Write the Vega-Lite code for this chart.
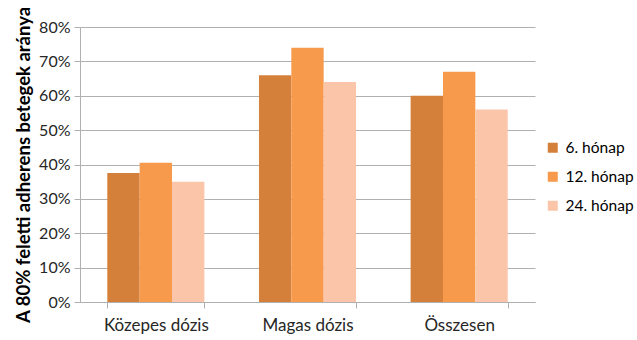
{
  "$schema": "https://vega.github.io/schema/vega-lite/v6.json",
  "width": 455,
  "height": 275,
  "autosize": {"type": "none"},
  "padding": {"left": 80, "top": 27, "right": 102, "bottom": 38},
  "background": "white",
  "config": {
    "view": {"stroke": null},
    "font": "Lato",
    "axis": {"labelFont": "Lato", "titleFont": "Lato"},
    "legend": {"labelFont": "Lato"}
  },
  "data": {
    "values": [
      {"csoport": "Közepes dózis", "idopont": "6. hónap", "arany": 0.375},
      {"csoport": "Közepes dózis", "idopont": "12. hónap", "arany": 0.405},
      {"csoport": "Közepes dózis", "idopont": "24. hónap", "arany": 0.35},
      {"csoport": "Magas dózis", "idopont": "6. hónap", "arany": 0.66},
      {"csoport": "Magas dózis", "idopont": "12. hónap", "arany": 0.74},
      {"csoport": "Magas dózis", "idopont": "24. hónap", "arany": 0.64},
      {"csoport": "Összesen", "idopont": "6. hónap", "arany": 0.6},
      {"csoport": "Összesen", "idopont": "12. hónap", "arany": 0.67},
      {"csoport": "Összesen", "idopont": "24. hónap", "arany": 0.56}
    ]
  },
  "mark": {"type": "bar"},
  "encoding": {
    "x": {
      "field": "csoport",
      "type": "nominal",
      "sort": ["Közepes dózis", "Magas dózis", "Összesen"],
      "scale": {"paddingInner": 0.36, "paddingOuter": 0.18},
      "axis": {
        "title": null,
        "labelAngle": 0,
        "labelFontSize": 17,
        "labelColor": "#262626",
        "labelPadding": 9,
        "domainColor": "#B0B0B0",
        "tickColor": "#B0B0B0",
        "tickBand": "extent",
        "tickSize": 6
      }
    },
    "xOffset": {
      "field": "idopont",
      "type": "nominal",
      "sort": ["6. hónap", "12. hónap", "24. hónap"],
      "scale": {"paddingInner": 0}
    },
    "y": {
      "field": "arany",
      "type": "quantitative",
      "scale": {"domain": [0, 0.8]},
      "axis": {
        "values": [0, 0.1, 0.2, 0.3, 0.4, 0.5, 0.6, 0.7, 0.8],
        "format": ".0%",
        "labelFontSize": 16,
        "labelColor": "#262626",
        "labelPadding": 4,
        "domainColor": "#B0B0B0",
        "tickColor": "#B0B0B0",
        "tickSize": 6,
        "gridColor": "#B0B0B0",
        "title": "A 80% feletti adherens betegek aránya",
        "titleFontSize": 18.5,
        "titleFontWeight": "bold",
        "titleColor": "#000000",
        "titlePadding": 5
      }
    },
    "color": {
      "field": "idopont",
      "type": "nominal",
      "sort": ["6. hónap", "12. hónap", "24. hónap"],
      "scale": {
        "domain": ["6. hónap", "12. hónap", "24. hónap"],
        "range": ["#D4803A", "#F79A4C", "#FAC5A9"]
      },
      "legend": {
        "title": null,
        "orient": "none",
        "legendX": 465,
        "legendY": 113,
        "symbolType": "square",
        "symbolSize": 100,
        "symbolStrokeWidth": 0,
        "labelFontSize": 15.5,
        "labelColor": "#000000",
        "labelOffset": 5,
        "rowPadding": 12,
        "padding": 0
      }
    }
  }
}
